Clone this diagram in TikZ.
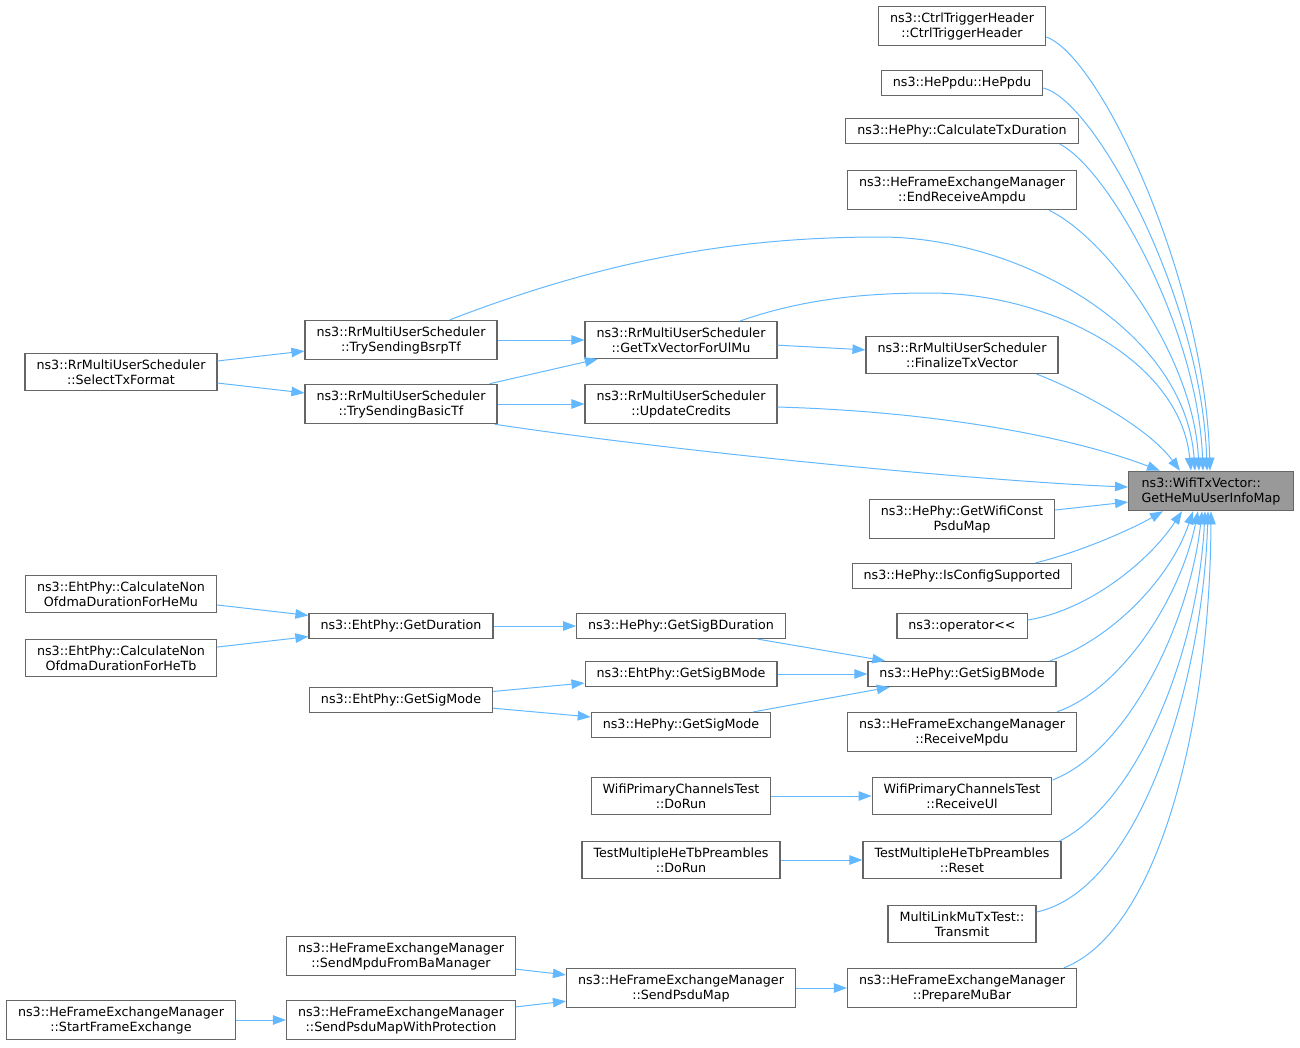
\documentclass[tikz,border=0pt]{standalone}
\usepackage{fontspec}
\setmainfont{DejaVu Sans}
\usetikzlibrary{arrows.meta}
\definecolor{callblue}{HTML}{63B8FF}
\definecolor{boxgrey}{HTML}{666666}
\definecolor{focusgrey}{HTML}{999999}
\tikzstyle{call}=[draw=callblue, line width=1pt]
\tikzstyle{caller graph}=[
    ->,>={Triangle[length=13pt,width=9.5pt]},
    x=1pt,y=-1pt,
    every node/.style={
        align=center,
        font=\fontsize{12.7}{15}\selectfont,
    },
    every edge/.style={call}]
\tikzstyle{fn}=[draw=boxgrey, line width=1.2pt, fill=white, inner xsep=11.5pt, inner ysep=6pt, minimum height=25pt]
\tikzstyle{focus}=[fn, fill=focusgrey, inner xsep=13pt]
\newcommand{\fnname}[2]{#1\\#2}

\begin{document}
\begin{tikzpicture}[caller graph]
        \useasboundingbox (0,0) rectangle (1300,1047);
        \node[focus, align=left] (tgt) at (1211,491) {\fnname{ns3::WifiTxVector::}{GetHeMuUserInfoMap}};

        % callers of the target
        \node[fn] (ctor) at (962,26) {\fnname{ns3::CtrlTriggerHeader}{::CtrlTriggerHeader}};
        \node[fn] (heppdu) at (962,83) {ns3::HePpdu::HePpdu};
        \node[fn] (calctx) at (962,131) {ns3::HePhy::CalculateTxDuration};
        \node[fn] (endrx) at (962,190) {\fnname{ns3::HeFrameExchangeManager}{::EndReceiveAmpdu}};
        \node[fn] (finalize) at (962,355) {\fnname{ns3::RrMultiUserScheduler}{::FinalizeTxVector}};
        \node[fn] (wificonst) at (962,519) {\fnname{ns3::HePhy::GetWifiConst}{PsduMap}};
        \node[fn] (iscfg) at (962,576) {ns3::HePhy::IsConfigSupported};
        \node[fn] (oper) at (962,626) {ns3::operator<\kern0pt<};
        \node[fn] (hesigb) at (962,674) {ns3::HePhy::GetSigBMode};
        \node[fn] (rxmpdu) at (962,732) {\fnname{ns3::HeFrameExchangeManager}{::ReceiveMpdu}};
        \node[fn] (rxul) at (962,796) {\fnname{WifiPrimaryChannelsTest}{::ReceiveUl}};
        \node[fn] (reset) at (962,860) {\fnname{TestMultipleHeTbPreambles}{::Reset}};
        \node[fn] (transmit) at (962,924) {\fnname{MultiLinkMuTxTest::}{Transmit}};
        \node[fn] (mubar) at (962,988) {\fnname{ns3::HeFrameExchangeManager}{::PrepareMuBar}};

        \node[fn] (txvec) at (681,340) {\fnname{ns3::RrMultiUserScheduler}{::GetTxVectorForUlMu}};
        \node[fn] (credits) at (681,404) {\fnname{ns3::RrMultiUserScheduler}{::UpdateCredits}};
        \node[fn] (sigbdur) at (681,626) {ns3::HePhy::GetSigBDuration};
        \node[fn] (ehtsigb) at (681,674) {ns3::EhtPhy::GetSigBMode};
        \node[fn] (hesigmode) at (681,725) {ns3::HePhy::GetSigMode};
        \node[fn] (pcdorun) at (681,796) {\fnname{WifiPrimaryChannelsTest}{::DoRun}};
        \node[fn] (tbdorun) at (681,860) {\fnname{TestMultipleHeTbPreambles}{::DoRun}};
        \node[fn] (sendpsdu) at (681,988) {\fnname{ns3::HeFrameExchangeManager}{::SendPsduMap}};

        \node[fn] (bsrp) at (401,340) {\fnname{ns3::RrMultiUserScheduler}{::TrySendingBsrpTf}};
        \node[fn] (basic) at (401,404) {\fnname{ns3::RrMultiUserScheduler}{::TrySendingBasicTf}};
        \node[fn] (ehtdur) at (401,626) {ns3::EhtPhy::GetDuration};
        \node[fn] (ehtsigmode) at (401,700) {ns3::EhtPhy::GetSigMode};
        \node[fn] (frombamgr) at (401,956) {\fnname{ns3::HeFrameExchangeManager}{::SendMpduFromBaManager}};
        \node[fn] (withprot) at (401,1020) {\fnname{ns3::HeFrameExchangeManager}{::SendPsduMapWithProtection}};

        \node[fn] (selecttx) at (121,372) {\fnname{ns3::RrMultiUserScheduler}{::SelectTxFormat}};
        \node[fn] (nonhemu) at (121,594) {\fnname{ns3::EhtPhy::CalculateNon}{OfdmaDurationForHeMu}};
        \node[fn] (nonhetb) at (121,658) {\fnname{ns3::EhtPhy::CalculateNon}{OfdmaDurationForHeTb}};
        \node[fn] (startfe) at (121,1020) {\fnname{ns3::HeFrameExchangeManager}{::StartFrameExchange}};

        \path
            (selecttx) edge (bsrp)
            (selecttx) edge (basic)
            (bsrp) edge (txvec)
            (basic) edge (txvec)
            (basic) edge (credits)
            (txvec) edge (finalize)
            (nonhemu) edge (ehtdur)
            (nonhetb) edge (ehtdur)
            (ehtdur) edge (sigbdur)
            (sigbdur) edge (hesigb)
            (ehtsigb) edge (hesigb)
            (ehtsigmode) edge (ehtsigb)
            (ehtsigmode) edge (hesigmode)
            (hesigmode) edge (hesigb)
            (pcdorun) edge (rxul)
            (tbdorun) edge (reset)
            (frombamgr) edge (sendpsdu)
            (withprot) edge (sendpsdu)
            (startfe) edge (withprot)
            (sendpsdu) edge (mubar)
        ;

        % into the top of the target
        \draw[call] ([yshift=-11]ctor.east) .. controls (1100,55) and (1205,280) .. ([xshift=-1]tgt.north);
        \draw[call] ([yshift=-5]heppdu.east) .. controls (1095,100) and (1202,300) .. ([xshift=-4]tgt.north);
        \draw[call] ([xshift=-19]calctx.south east) .. controls (1110,170) and (1198,330) .. ([xshift=-8]tgt.north);
        \draw[call] ([xshift=-28]endrx.south east) .. controls (1110,240) and (1194,360) .. ([xshift=-12]tgt.north);
        \draw[call] ([xshift=49]bsrp.north) .. controls (600,262) and (730,237) .. (880,237)
            .. controls (1020,237) and (1185,330) .. ([xshift=-16]tgt.north);
        \draw[call] ([xshift=59]txvec.north) .. controls (800,300) and (860,293) .. (930,293)
            .. controls (1050,293) and (1180,360) .. ([xshift=-20]tgt.north);
        \draw[call] ([xshift=-22]finalize.south east) .. controls (1090,395) and (1150,430) .. ([xshift=-31]tgt.north);
        \draw[call] ([yshift=-3]credits.east) .. controls (950,412) and (1080,440) .. ([xshift=-51]tgt.north);
        % into its left side
        \draw[call] ([xshift=-3]basic.south east) .. controls (700,455) and (1000,482) .. ([yshift=4]tgt.west);
        \draw[call] ([yshift=9]wificonst.east) -- ([yshift=-11]tgt.west);
        % into its bottom
        \draw[call] ([xshift=-37]iscfg.north east) .. controls (1080,552) and (1130,530) .. ([xshift=-48]tgt.south);
        \draw[call] ([yshift=6]oper.east) .. controls (1090,610) and (1150,560) .. ([xshift=-29]tgt.south);
        \draw[call] ([xshift=-7]hesigb.north east) .. controls (1110,640) and (1170,580) .. ([xshift=-18]tgt.south);
        \draw[call] ([xshift=-20]rxmpdu.north east) .. controls (1120,690) and (1180,600) .. ([xshift=-13]tgt.south);
        \draw[call] ([yshift=16]rxul.east) .. controls (1130,750) and (1190,620) .. ([xshift=-9]tgt.south);
        \draw[call] ([xshift=-2]reset.north east) .. controls (1140,800) and (1198,650) .. ([xshift=-6]tgt.south);
        \draw[call] ([yshift=12]transmit.east) .. controls (1140,890) and (1203,680) .. ([xshift=-3]tgt.south);
        \draw[call] ([xshift=-13]mubar.north east) .. controls (1160,930) and (1210,720) .. (tgt.south);
\end{tikzpicture}
\end{document}
